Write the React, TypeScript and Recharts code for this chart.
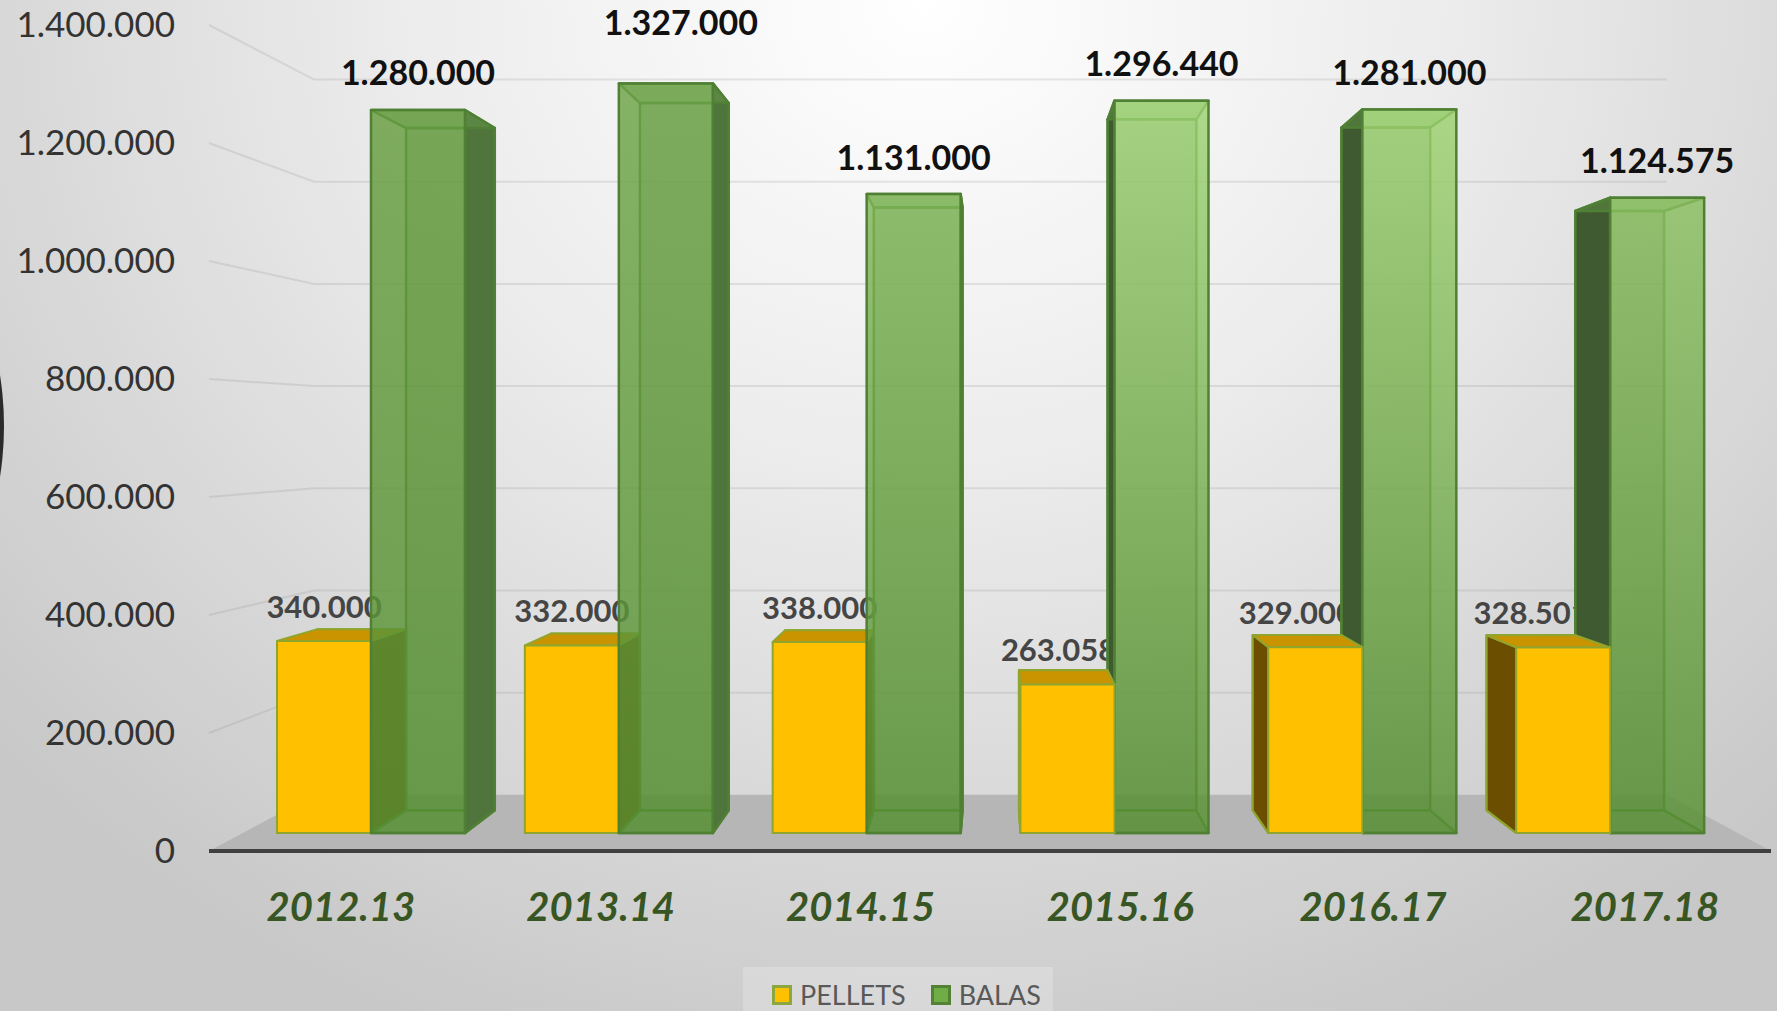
import React from 'react';
import { ComposedChart, Bar, Line, XAxis, YAxis, CartesianGrid, Legend } from 'recharts';

const seasons = ['2012.13', '2013.14', '2014.15', '2015.16', '2016.17', '2017.18'];
const pellets = [340000, 332000, 338000, 263058, 329000, 328501];
const balas = [1280000, 1327000, 1131000, 1296440, 1281000, 1124575];
const yTicks = [0, 200000, 400000, 600000, 800000, 1000000, 1200000, 1400000];

// hand-moved labels in the original
const pelletLabelShift = [0, 0, 0, -9, -19, -32];
const balasLabelShift = [0, 15, 0, 0, 0, 0];
const balasLabelLift = [0, 24, 0, 0, 0, 0];
const seasonTickShift = [0, 0, 0, 0, -7, 5];
const balasTop = ['#669d3f', '#6ca347', '#7fb657', '#9ed373', '#9cd16f', '#8abf5f'];
const balasBottom = ['#579033', '#579033', '#579033', '#579033', '#579033', '#579033'];

const chartData = seasons.map((season, i) => ({ season, pellets: pellets[i], balas: balas[i], i }));

const WIDTH = 1777;
const HEIGHT = 1011;
const FONT = 'Lato, sans-serif';

// the fake 3D: everything shrinks towards one vanishing point
const VP = { x: 993, y: 432 };
const BAR_DEPTH = 0.9436;
const WALL_DEPTH = 0.866;
const AXIS_TO_BARS = 0.954;
const AXIS_LEFT = 209;
const AXIS_RIGHT = 1771;

const px = (x: number, k: number) => VP.x + (x - VP.x) * k;
const py = (y: number, k: number) => VP.y + (y - VP.y) * k;

const pts = (list: number[][]) => list.map((p) => p.join(',')).join(' ');

const formatDots = (v: number) => String(v).replace(/\B(?=(\d{3})+(?!\d))/g, '.');

function Prism({ x, y, width, height, front, side, top, stroke, strokeWidth = 2, frontOpacity = 1, topOpacity = 1 }: any) {
  const x0 = x;
  const x1 = x + width;
  const y0 = y;
  const y1 = y + height;
  const bx0 = px(x0, BAR_DEPTH);
  const bx1 = px(x1, BAR_DEPTH);
  const by0 = py(y0, BAR_DEPTH);
  const by1 = py(y1, BAR_DEPTH);
  const showRight = bx1 > x1;
  const sx = showRight ? x1 : x0;
  const sbx = showRight ? bx1 : bx0;
  return (
    <g stroke={stroke} strokeWidth={strokeWidth} strokeLinejoin="round">
      <rect x={bx0} y={by0} width={bx1 - bx0} height={by1 - by0} fill={side} fillOpacity={0.25} />
      <polygon points={pts([[x0, y1], [x1, y1], [bx1, by1], [bx0, by1]])} fill={side} fillOpacity={0.2} />
      <polygon points={pts([[sx, y0], [sbx, by0], [sbx, by1], [sx, y1]])} fill={side} />
      <polygon points={pts([[x0, y0], [x1, y0], [bx1, by0], [bx0, by0]])} fill={top} fillOpacity={topOpacity} />
      <rect x={x0} y={y0} width={width} height={height} fill={front} fillOpacity={frontOpacity} />
    </g>
  );
}

const YellowPrism = (p: any) => (
  <Prism {...p} front="#ffc000" side="#6b4e00" top="#c99400" stroke="#8fa52e" />
);

function PelletsShape(props: any) {
  const { x, y, width, payload } = props;
  return (
    <g>
      <YellowPrism {...props} />
      <text
        x={x + width / 2 + pelletLabelShift[payload.i]}
        y={y - 35}
        textAnchor="middle"
        dominantBaseline="central"
        fontFamily={FONT}
        fontSize={31}
        fontWeight={700}
        fill="#454545"
      >
        {formatDots(payload.pellets)}
      </text>
    </g>
  );
}

function BalasShape(props: any) {
  const { x, y, width, height, payload } = props;
  const i = payload.i;
  const gradId = `balas-front-${i}`;
  const showRight = px(x + width, BAR_DEPTH) > x + width;
  // past the vanishing point the yellow box sits in front of the green side
  const pelletHeight = (height * payload.pellets) / payload.balas;
  return (
    <g>
      <defs>
        <linearGradient id={gradId} x1="0" y1="0" x2="0" y2="1">
          <stop offset="0%" stopColor={balasTop[i]} />
          <stop offset="100%" stopColor={balasBottom[i]} />
        </linearGradient>
      </defs>
      <Prism
        {...props}
        front={`url(#${gradId})`}
        frontOpacity={0.82}
        side={showRight ? '#4f753c' : '#3f5a30'}
        top="#6f9f50"
        topOpacity={0.4}
        stroke="#4f8034"
        strokeWidth={2.5}
      />
      {i >= 3 && (
        <YellowPrism x={x - width} y={y + height - pelletHeight} width={width} height={pelletHeight} />
      )}
      <text
        x={x + width / 2 + balasLabelShift[i]}
        y={y - 38 - balasLabelLift[i]}
        textAnchor="middle"
        dominantBaseline="central"
        fontFamily={FONT}
        fontSize={34}
        fontWeight={700}
        fill="#111111"
      >
        {formatDots(payload.balas)}
      </text>
    </g>
  );
}

// each wall grid line: slanted bit from the axis label, then across the back wall
function WallLine(props: any) {
  const { y1 } = props;
  const y = y1;
  const wallY = py(y, WALL_DEPTH);
  const wallLeft = px(AXIS_LEFT, WALL_DEPTH);
  const wallRight = px(AXIS_RIGHT, WALL_DEPTH);
  const isFloor = Math.abs(y - 851) < 1;
  return (
    <g key={`wall-${y}`}>
      {isFloor && (
        <polygon
          points={pts([[AXIS_LEFT, y], [wallLeft, wallY], [wallRight, wallY], [AXIS_RIGHT, y]])}
          fill="#b6b6b6"
        />
      )}
      {!isFloor && (
        <polyline
          points={pts([[AXIS_LEFT, y], [wallLeft, wallY], [wallRight, wallY]])}
          fill="none"
          stroke="#8c8c8c"
          strokeOpacity={0.2}
          strokeWidth={2}
        />
      )}
      {isFloor && <line x1={AXIS_LEFT} x2={AXIS_RIGHT} y1={y} y2={y} stroke="#404040" strokeWidth={4} />}
    </g>
  );
}

function SeasonTick({ x, y, payload, index }: any) {
  return (
    <text
      x={px(x, 1 / AXIS_TO_BARS) + seasonTickShift[index]}
      y={y}
      textAnchor="middle"
      dominantBaseline="central"
      fontFamily={FONT}
      fontSize={40}
      fontWeight={700}
      fontStyle="italic"
      fill="#375623"
    >
      {payload.value}
    </text>
  );
}

function AmountTick({ x, y, payload }: any) {
  return (
    <text x={x} y={y - 2} textAnchor="end" dominantBaseline="central" fontFamily={FONT} fontSize={35} fill="#333333">
      {formatDots(payload.value)}
    </text>
  );
}

function LegendBox() {
  const item = (label: string, color: string, stroke: string, gap: number) => (
    <span style={{ display: 'inline-flex', alignItems: 'center', marginRight: gap }}>
      <span
        style={{
          width: 20,
          height: 20,
          boxSizing: 'border-box',
          background: color,
          border: `3px solid ${stroke}`,
          marginRight: 8,
          display: 'inline-block',
        }}
      />
      {label}
    </span>
  );
  return (
    <div
      style={{
        width: 310,
        height: 44,
        background: 'rgba(255,255,255,0.22)',
        display: 'flex',
        alignItems: 'center',
        fontFamily: FONT,
        fontSize: 27,
        lineHeight: '30px',
        color: '#595959',
        paddingLeft: 29,
        paddingTop: 12,
        boxSizing: 'border-box',
      }}
    >
      {item('PELLETS', '#ffc000', '#8aa83f', 25)}
      {item('BALAS', '#70ad47', '#548235', 0)}
    </div>
  );
}

export default function App() {
  return (
    <div
      style={{
        position: 'absolute',
        left: 0,
        top: 0,
        width: WIDTH,
        height: HEIGHT,
        overflow: 'hidden',
        background: 'radial-gradient(ellipse 70% 110% at 52% 0%, #ffffff 0%, #ececec 42%, #c8c8c8 100%)',
      }}
    >
      <div
        style={{
          position: 'absolute',
          left: -648,
          top: 100,
          width: 652,
          height: 652,
          borderRadius: '50%',
          background: '#2b2b2b',
        }}
      />
      <ComposedChart
        width={WIDTH}
        height={HEIGHT}
        data={chartData}
        barGap={0}
        barCategoryGap={30}
        margin={{ top: 25, right: 43, bottom: 0, left: 0 }}
        style={{ position: 'absolute', left: 0, top: 0 }}
      >
        <CartesianGrid yAxisId="ticks" vertical={false} horizontal={(p: any) => <WallLine {...p} />} />
        <XAxis
          dataKey="season"
          height={160}
          axisLine={false}
          tickLine={false}
          tickMargin={0}
          tick={(p: any) => <SeasonTick {...p} y={906} />}
          interval={0}
        />
        <YAxis
          yAxisId="ticks"
          width={247}
          domain={[0, 1400000]}
          ticks={yTicks}
          axisLine={false}
          tickSize={0}
          tickMargin={72}
          tick={(p: any) => <AmountTick {...p} x={175} />}
          interval={0}
        />
        {/* bars live on the front plane, a bit smaller than the axis labels */}
        <YAxis yAxisId="bars" hide domain={[-31900, 1430400]} />
        <Legend
          layout="horizontal"
          verticalAlign="middle"
          align="center"
          wrapperStyle={{ left: 743, top: 967, width: 310, height: 44 }}
          content={() => <LegendBox />}
        />
        <Bar yAxisId="bars" dataKey="pellets" name="PELLETS" fill="#ffc000" shape={<PelletsShape />} isAnimationActive={false} />
        <Bar yAxisId="bars" dataKey="balas" name="BALAS" fill="#70a050" shape={<BalasShape />} isAnimationActive={false} />
        {/* the tick axis needs a series bound to it or it draws no ticks */}
        <Line yAxisId="ticks" dataKey="balas" stroke="none" dot={false} activeDot={false} legendType="none" isAnimationActive={false} />
      </ComposedChart>
    </div>
  );
}
